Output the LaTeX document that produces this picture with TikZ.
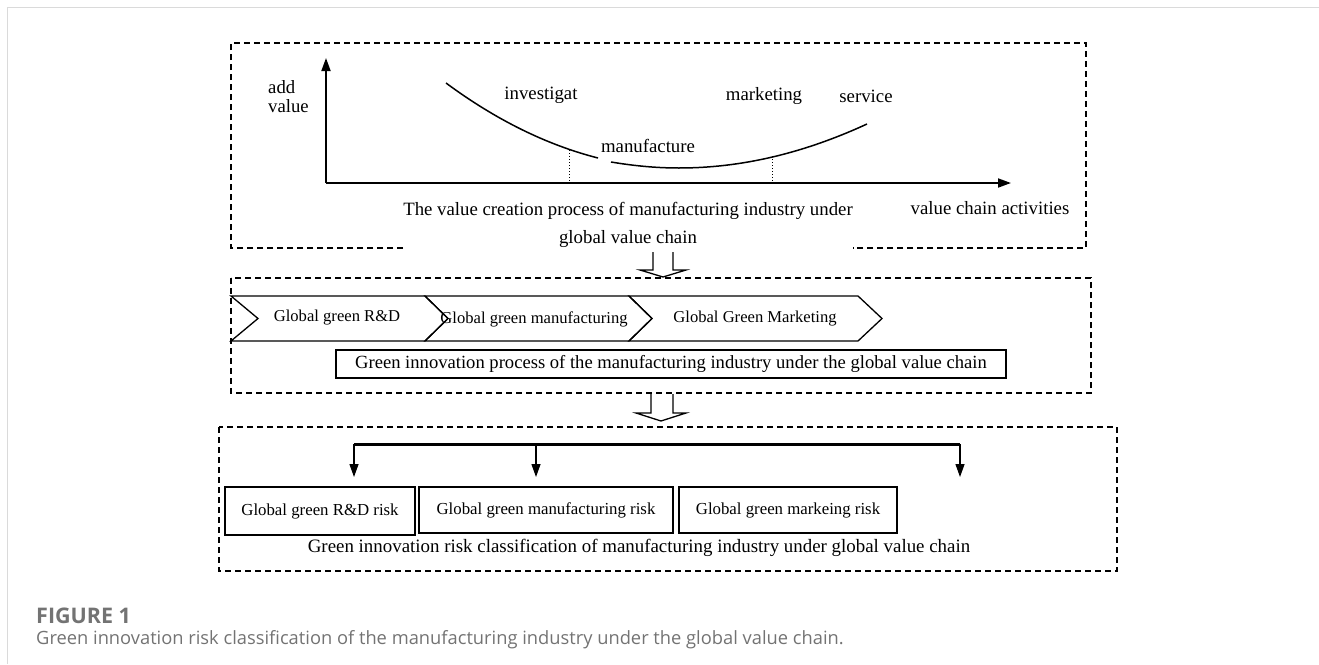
\documentclass[tikz,border=0pt]{standalone}
\usepackage{fontspec}
\setmainfont{Liberation Serif}
\newfontfamily\capfont{Open Sans}
\usepackage{xcolor}
\usepackage{tikz}
\usetikzlibrary{arrows.meta, positioning}
\definecolor{capgray}{RGB}{115,115,115}
\definecolor{framegray}{RGB}{218,218,218}

\begin{document}
\begin{tikzpicture}[x=1pt, y=-1pt,
    frame/.style = {draw, line width=1.3pt, dash pattern=on 6pt off 4pt},
    axis/.style = {draw, line width=1.8pt, -{Triangle[length=13pt, width=9pt]}},
    chev/.style = {draw, line width=1.3pt, line join=miter},
    hollow/.style = {draw, line width=1.3pt, line join=miter},
    riskbox/.style = {draw, line width=1.3pt, inner sep=0pt,
                      font=\fontsize{16.8}{20}\selectfont},
    down/.style = {draw, line width=1.3pt, -{Triangle[length=13pt, width=9pt]}},
    big/.style = {font=\fontsize{18.8}{28}\selectfont, inner sep=0pt},
    chevtext/.style = {font=\fontsize{16.6}{20}\selectfont, inner sep=0pt},
                    ]
\useasboundingbox (0,0) rectangle (1319,664);
% page frame
\draw[framegray, line width=1pt] (7,664) -- (7,7) -- (1319,7);

% value creation curve
\node (title) [big, align=center] at (628,225)
      {The value creation process of manufacturing industry under\\global value chain};
\draw[frame] (title.west |- 0,248) -- (231,248) -- (231,43) -- (1086,43)
      -- (1086,248) -- (title.east |- 0,248);
\coordinate (o) at (326,183);
\draw[axis] (o) -- (326,58);
\draw[axis] (o) -- (1011,183);
\node (addv) [big, align=left, anchor=west, font=\fontsize{18.7}{19.5}\selectfont]
      at (268,96.5) {add\\value};
\node (act) [big] at (990,208) {value chain activities};
\draw[line width=1.5pt] (446,83) .. controls (496,120) and (547,145) .. (598,158);
\draw[line width=1.5pt] (611,162) .. controls (635,166) and (657,168) .. (679,168)
      .. controls (742,168) and (804,153) .. (867,124);
\draw[dotted, line width=1pt] (569,150) -- (569,0 |- o);
\draw[dotted, line width=1pt] (772,156) -- (772,0 |- o);
\node (inv) [big] at (541,95) {investigat};
\node (mkt) [big] at (764,96) {marketing};
\node (srv) [big] at (866,96) {service};
\node (man) [big] at (648,146) {manufacture};

\draw[hollow] (653,252) -- (653,270) -- (640,270) -- (663,277) -- (686,270)
      -- (673,270) -- (673,252);

% green innovation process
\draw[frame] (231,278) rectangle (1091,393);
\draw[chev] (231,296) -- (425,296) -- (448,318.5) -- (425,341) -- (231,341)
      -- (258,318.5) -- cycle;
\draw[chev] (425,296) -- (629,296) -- (652,318.5) -- (629,341) -- (425,341)
      -- (448,318.5) -- cycle;
\draw[chev] (629,296) -- (858,296) -- (882,318.5) -- (858,341) -- (629,341)
      -- (652,318.5) -- cycle;
\node (rd) [chevtext] at (337,318) {Global green R\&D};
\node (mf) [chevtext] at (534,319) {Global green manufacturing};
\node (mk) [chevtext] at (755,319) {Global Green Marketing};
\node (proc) [draw, line width=2pt, minimum width=670pt, minimum height=28pt,
      inner sep=0pt, font=\fontsize{18.6}{22}\selectfont] at (671,363.5)
      {Green innovation process of the manufacturing industry under the global value chain};

\draw[hollow] (651,394) -- (651,413) -- (636,413) -- (661,421) -- (686,413)
      -- (673,413) -- (673,394);

% risk classification
\draw[frame] (219,427) rectangle (1117,571);
\node (r1) [riskbox, minimum width=190pt, minimum height=48pt] at (320,511)
      {Global green R\&D risk};
\node (r2) [riskbox, minimum width=254pt, minimum height=46pt] at (546,510)
      {Global green manufacturing risk};
\node (r3) [riskbox, minimum width=218pt, minimum height=46pt] at (788,510)
      {Global green markeing risk};
\coordinate (b1) at (354,444);
\coordinate (b2) at (536,444);
\coordinate (b3) at (960,444);
\draw[line width=3pt] (b1) -- (b3);
\draw[down] (b1) -- (354,477);
\draw[down] (b2) -- (536,477);
\draw[down] (b3) -- (960,477);
\node (cls) [big, font=\fontsize{18.9}{22}\selectfont] at (639,548)
      {Green innovation risk classification of manufacturing industry under global value chain};

% caption
\node (fig) [anchor=west, inner sep=0pt, text=capgray,
      font=\capfont\bfseries\fontsize{21.5}{24}\selectfont] at (36,616) {FIGURE 1};
\node (cap) [anchor=west, inner sep=0pt, text=capgray,
      font=\capfont\fontsize{18.3}{22}\selectfont] at (36,640)
      {Green innovation risk classification of the manufacturing industry under the global value chain.};
\end{tikzpicture}
\end{document}
